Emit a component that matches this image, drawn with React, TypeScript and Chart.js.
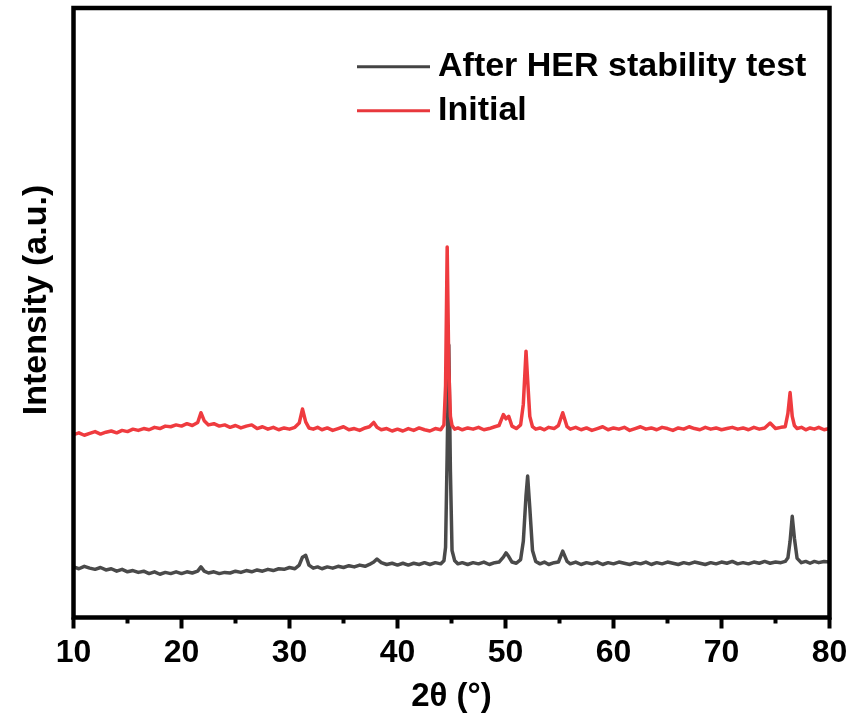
import React, { useEffect, useRef } from "react";
import { Chart, registerables } from "chart.js";

Chart.register(...registerables);

// 2θ sampling grid (degrees)
const twoTheta: number[] = [
  10, 10.5, 11, 11.5, 12, 12.5, 13, 13.5, 14, 14.5, 15, 15.5, 16, 16.5, 17, 17.5, 18, 18.5, 19, 19.5, 20, 20.5, 21, 21.5,
  21.8, 22.1,
  22.5, 23, 23.5, 24, 24.5, 25, 25.5, 26, 26.5, 27, 27.5, 28, 28.5, 29, 29.5, 30, 30.5,
  30.9, 31.2, 31.5, 31.8,
  32.2, 32.6, 33, 33.5, 34, 34.5, 35, 35.5, 36, 36.5, 37, 37.4, 37.8, 38.1, 38.5, 39, 39.5, 40, 40.5, 41, 41.5, 42, 42.5, 43, 43.5, 44,
  44.3, 44.45, 44.6, 44.75, 44.9, 45.05, 45.3, 45.6,
  46, 46.5, 47, 47.5, 48, 48.5, 49,
  49.4, 49.8, 50.05, 50.3, 50.6,
  51, 51.4, 51.65, 51.9, 52.05, 52.25, 52.5, 52.8,
  53.2, 53.6, 54, 54.5,
  54.9, 55.3, 55.7,
  56, 56.5, 57, 57.5, 58, 58.5, 59, 59.5, 60, 60.5, 61, 61.5, 62, 62.5, 63, 63.5, 64, 64.5, 65, 65.5,
  66, 66.5, 67, 67.5, 68, 68.5, 69, 69.5, 70, 70.5, 71, 71.5, 72, 72.5, 73, 73.5, 74, 74.5, 75, 75.5,
  75.9, 76.15, 76.35, 76.55, 76.75, 77.0,
  77.4, 77.8, 78.2, 78.6, 79, 79.5, 80,
];

// Intensity (a.u., offset) – Initial
const initialIntensity: number[] = [
  30.0, 30.3, 29.9, 30.2, 30.5, 30.1, 30.4, 30.6, 30.3, 30.7, 30.5, 30.9, 30.7, 31.0, 30.8, 31.2, 31.0, 31.4, 31.3, 31.6, 31.4, 31.8, 31.5, 32.0,
  33.6, 32.3,
  31.6, 31.8, 31.4, 31.6, 31.2, 31.5, 31.1, 31.4, 31.6, 31.0, 31.3, 30.9, 31.2, 30.8, 31.1, 30.9, 31.2,
  31.9, 34.2, 32.1, 31.1,
  30.9, 31.2, 30.8, 31.1, 30.7, 31.0, 31.3, 30.8, 31.0, 30.7, 31.1, 31.3, 32.0, 31.2, 30.8, 31.0, 30.6, 30.9, 30.6, 31.0, 30.7, 31.1, 30.8, 30.6, 31.0, 30.8,
  31.6, 38.0, 60.8, 41.0, 33.0, 31.5, 30.9, 31.1,
  30.8, 31.1, 30.9, 31.2, 30.8, 31.0, 31.3,
  31.5, 33.3, 32.6, 33.0, 31.4,
  31.0, 31.6, 35.0, 43.7, 39.0, 33.0, 31.3, 30.9,
  31.1, 30.8, 31.2, 31.0,
  31.5, 33.6, 31.3,
  30.9, 31.2, 30.8, 31.1, 30.7, 31.0, 31.3, 30.8, 31.1, 30.9, 31.2, 30.7, 31.0, 31.3, 30.9, 31.1, 30.8, 31.2, 31.0, 30.7,
  31.1, 30.9, 31.3, 31.0, 30.8, 31.2, 30.9, 31.1, 30.8, 31.0, 31.2, 30.9, 31.1, 30.8, 31.2, 30.9, 31.1, 31.9, 31.0, 31.2,
  31.3, 33.5, 36.9, 33.0, 31.5, 31.0,
  31.2, 30.8, 31.1, 30.9, 31.2, 30.8, 31.0,
];

// Intensity (a.u., offset) – After HER stability test
const afterIntensity: number[] = [
  8.3, 8.0, 8.4, 8.1, 7.9, 8.2, 7.8, 8.0, 7.6, 7.9, 7.5, 7.7, 7.4, 7.6, 7.2, 7.5, 7.1, 7.4, 7.2, 7.5, 7.2, 7.5, 7.3, 7.6,
  8.3, 7.6,
  7.3, 7.5, 7.2, 7.4, 7.3, 7.6, 7.4, 7.7, 7.5, 7.8, 7.6, 7.9, 7.7, 8.0, 7.9, 8.2, 8.0,
  8.6, 9.9, 10.2, 8.6,
  8.1, 8.3, 8.0, 8.3, 8.1, 8.4, 8.2, 8.5, 8.3, 8.6, 8.4, 8.7, 9.1, 9.6, 9.0, 8.7, 8.9, 8.6, 8.9, 8.6, 8.9, 8.7, 9.0, 8.7, 9.0, 8.8,
  9.3, 11.5, 27.0, 44.7, 24.0, 11.0, 9.3, 8.8,
  9.0, 8.7, 9.0, 8.8, 9.1, 8.7, 9.0,
  9.1, 9.9, 10.6, 10.0, 9.1,
  8.9, 9.5, 12.5, 20.0, 23.2, 18.0, 11.0, 9.2,
  8.8, 9.1, 8.7, 9.0,
  9.1, 10.9, 9.2,
  8.8, 9.1, 8.7, 9.0, 8.8, 9.1, 8.7, 9.0, 8.8, 9.1, 8.9, 8.7, 9.0, 8.8, 9.1, 8.7, 9.0, 8.8, 9.1, 8.9,
  8.7, 9.0, 8.8, 9.1, 8.9, 8.7, 9.0, 8.8, 9.1, 8.9, 9.2, 8.8, 9.0, 8.8, 9.1, 8.9, 9.2, 8.9, 9.1, 9.0,
  9.2, 9.8, 12.5, 16.6, 13.0, 9.7,
  9.0, 9.2, 8.9, 9.2, 9.0, 9.2, 9.1,
];

const seriesLabels = ["After HER stability test", "Initial"];
const seriesColors = ["#4a4a4a", "#ef3b3f"];
const legendColors = ["#444444", "#e8383d"];
const xMajorTicks = [10, 20, 30, 40, 50, 60, 70, 80];
const xMinorTicks = [15, 25, 35, 45, 55, 65, 75];
const xTitle = "2θ (°)";
const yTitle = "Intensity (a.u.)";

const FONT = "'Liberation Sans', Arial, Helvetica, sans-serif";

const decorPlugin = {
  id: "decor",
  afterDatasetsDraw(chart: any) {
    const { ctx, chartArea } = chart;
    const xs = chart.scales.x;
    const { left, right, top, bottom } = chartArea;
    ctx.save();
    // frame
    ctx.strokeStyle = "#000";
    ctx.lineWidth = 4.5;
    ctx.strokeRect(left, top, right - left, bottom - top);
    // ticks
    ctx.lineWidth = 4;
    ctx.lineCap = "butt";
    ctx.beginPath();
    for (const v of xMajorTicks) {
      const px = xs.getPixelForValue(v);
      ctx.moveTo(px, bottom);
      ctx.lineTo(px, bottom + 11);
    }
    for (const v of xMinorTicks) {
      const px = xs.getPixelForValue(v);
      ctx.moveTo(px, bottom);
      ctx.lineTo(px, bottom + 6);
    }
    ctx.stroke();
    // legend
    const legendY = [66.7, 110.7];
    ctx.font = `bold 34px ${FONT}`;
    ctx.textBaseline = "middle";
    ctx.textAlign = "left";
    for (let i = 0; i < seriesLabels.length; i++) {
      ctx.strokeStyle = legendColors[i];
      ctx.lineWidth = 3;
      ctx.beginPath();
      ctx.moveTo(357, legendY[i]);
      ctx.lineTo(430, legendY[i]);
      ctx.stroke();
      ctx.fillStyle = "#000";
      ctx.fillText(seriesLabels[i], 438, legendY[i]);
    }
    // y title
    ctx.translate(36.5, 300);
    ctx.rotate(-Math.PI / 2);
    ctx.textAlign = "center";
    ctx.fillText(yTitle, 0, 0);
    ctx.restore();
  },
};

export default function App() {
  const ref = useRef<HTMLCanvasElement | null>(null);
  useEffect(() => {
    if (!ref.current) return;
    const chart = new Chart(ref.current, {
      type: "line",
      data: {
        datasets: [
          {
            label: seriesLabels[0],
            data: twoTheta.map((x, i) => ({ x, y: afterIntensity[i] })),
            borderColor: seriesColors[0],
            borderWidth: 3.5,
            pointRadius: 0,
            tension: 0,
            order: 2,
            borderJoinStyle: "round",
          },
          {
            label: seriesLabels[1],
            data: twoTheta.map((x, i) => ({ x, y: initialIntensity[i] })),
            borderColor: seriesColors[1],
            borderWidth: 3.5,
            pointRadius: 0,
            tension: 0,
            order: 1,
            borderJoinStyle: "round",
          },
        ],
      },
      options: {
        responsive: false,
        animation: false,
        layout: { padding: { left: 73.5, top: 8, right: 23.5, bottom: 0 } },
        plugins: { legend: { display: false }, tooltip: { enabled: false } },
        scales: {
          x: {
            type: "linear",
            min: 10,
            max: 80,
            grid: { display: false, drawTicks: false },
            border: { display: false },
            ticks: {
              stepSize: 10,
              color: "#000",
              padding: 16,
              font: { family: FONT, size: 32, weight: "bold" },
            },
            title: {
              display: true,
              text: xTitle,
              color: "#000",
              font: { family: FONT, size: 33, weight: "bold" },
              padding: { top: 0, bottom: 9 },
            },
            afterFit(scale: any) {
              scale.height = 108.5;
              scale.paddingLeft = 0;
              scale.paddingRight = 0;
            },
          },
          y: {
            display: false,
            min: 0,
            max: 100,
          },
        },
      },
      plugins: [decorPlugin],
    } as any);
    return () => chart.destroy();
  }, []);
  return (
    <div style={{ position: "fixed", left: 0, top: 0, width: 853, height: 726, background: "#fff" }}>
      <canvas ref={ref} width={853} height={726} />
    </div>
  );
}
